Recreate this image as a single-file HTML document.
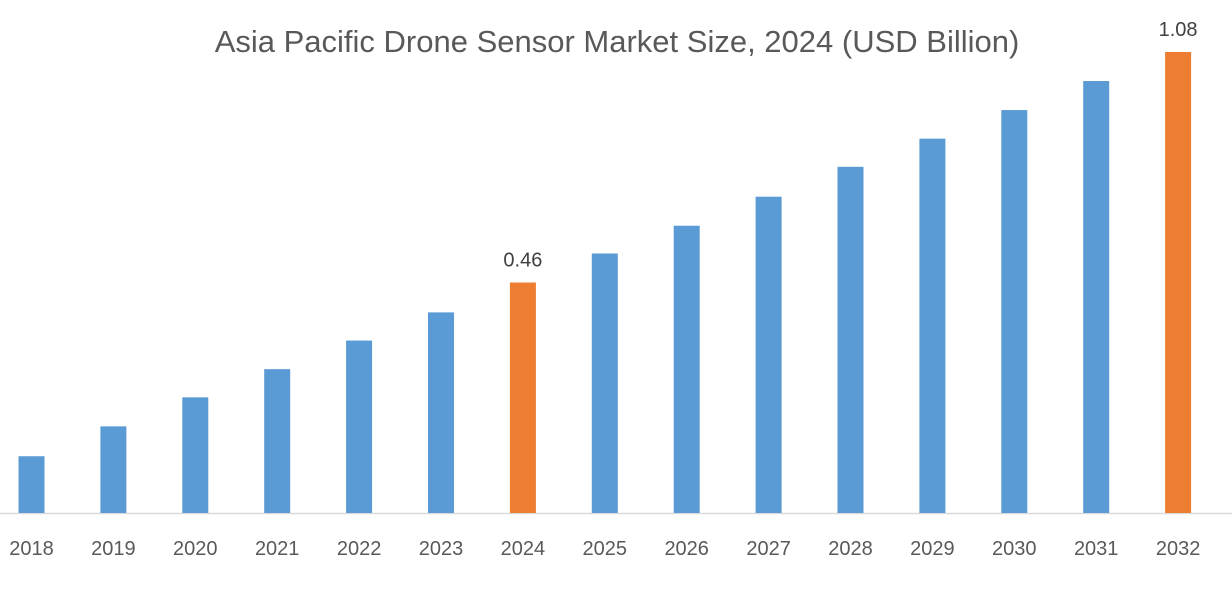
<!DOCTYPE html>
<html><head><meta charset="utf-8"><style>
html,body{margin:0;padding:0;background:#fff;}
svg{display:block;font-family:"Liberation Sans",sans-serif;}
</style></head><body>
<svg id="chart" width="1232" height="600" viewBox="0 0 1232 600">
<text x="617" y="52" text-anchor="middle" font-size="31" fill="#595959">Asia Pacific Drone Sensor Market Size, 2024 (USD Billion)</text>
<line x1="0" y1="513.5" x2="1232" y2="513.5" stroke="#d9d9d9" stroke-width="1.5"/>
<g id="bars"></g>
</svg>
<script>
const years = ["2018","2019","2020","2021","2022","2023","2024","2025","2026","2027","2028","2029","2030","2031","2032"];
const values = [0.133,0.203,0.271,0.337,0.404,0.470,0.54,0.608,0.673,0.741,0.811,0.877,0.944,1.012,1.08];
const highlighted = ["2024","2032"];
const valueLabels = {"2024":"0.46","2032":"1.08"};

const NS="http://www.w3.org/2000/svg";
const baseY=513, plotH=461, yMax=1.08;
const x0=31.5, step=81.9, barW=26;
function yScale(v){return baseY - v/yMax*plotH;}
function xScale(i){return x0 + i*step;}
const g=document.getElementById('bars');
years.forEach((yr,i)=>{
  const cx=xScale(i), top=yScale(values[i]);
  const r=document.createElementNS(NS,'rect');
  
  
  r.setAttribute('x',cx-barW/2);r.setAttribute('y',top);
  r.setAttribute('width',barW);r.setAttribute('height',baseY-top);
  r.setAttribute('fill',highlighted.includes(yr)?'#ed7d31':'#5b9bd5');
  g.appendChild(r);
  const t=document.createElementNS(NS,'text');
  
  
  t.setAttribute('x',cx);t.setAttribute('y',555);
  t.setAttribute('text-anchor','middle');t.setAttribute('font-size','20');t.setAttribute('fill','#595959');
  t.textContent=yr;g.appendChild(t);
  if(valueLabels[yr]){
    const l=document.createElementNS(NS,'text');
    
    
    l.setAttribute('x',cx);l.setAttribute('y',top-16);
    l.setAttribute('text-anchor','middle');l.setAttribute('font-size','20');l.setAttribute('fill','#404040');
    l.textContent=valueLabels[yr];g.appendChild(l);
  }
});
</script>
</body></html>
